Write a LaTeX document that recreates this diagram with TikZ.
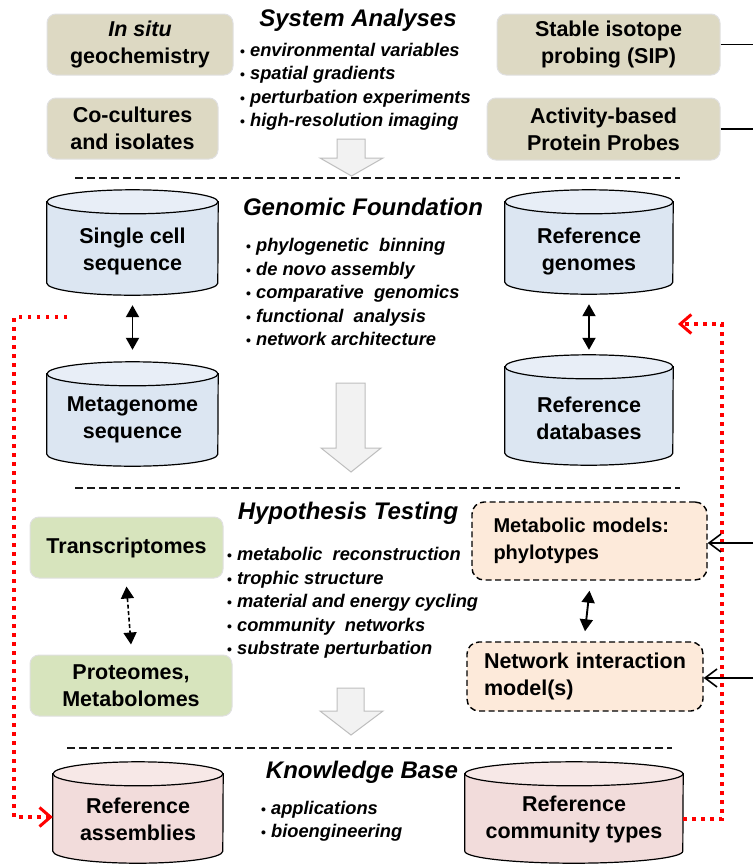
\documentclass[tikz,border=0pt]{standalone}
\usepackage{fontspec}
\setmainfont{Liberation Sans}
\usetikzlibrary{arrows.meta,calc}
\definecolor{beige}{RGB}{221,217,195}
\definecolor{cylblue}{RGB}{220,230,242}
\definecolor{cylbluetop}{RGB}{232,238,247}
\definecolor{grn}{RGB}{215,228,189}
\definecolor{peach}{RGB}{253,234,218}
\definecolor{pinkbody}{RGB}{242,220,219}
\definecolor{pinktop}{RGB}{247,232,231}
\definecolor{arrgray}{RGB}{242,242,242}
\definecolor{arrline}{RGB}{190,190,190}
\newcommand\drawcyl[4]{%
  \filldraw[fill=#3, draw=black, line width=1.2pt] ([yshift=-12pt]#1.north west) -- ([yshift=12pt]#1.south west) arc[start angle=180, end angle=360, x radius=#2pt, y radius=12pt] -- ([yshift=-12pt]#1.north east) -- cycle;
  \filldraw[fill=#4, draw=black, line width=1.2pt] ([yshift=-12pt]#1.north) ellipse[x radius=#2pt, y radius=12pt];
}
\newcommand\bl[1]{{\fontsize{14}{14}\selectfont\textbullet}\hspace{5pt}\textit{#1}}
\tikzset{
  boxtext/.style={align=center, inner sep=0pt, font=\bfseries\fontsize{21.5}{27}\selectfont},
  beigebox/.style={boxtext, rounded corners=9pt, fill=beige, draw=black!12, line width=1pt},
  grnbox/.style={boxtext, rounded corners=9pt, fill=grn, draw=black!12, line width=1pt},
  peachbox/.style={boxtext, align=left, rounded corners=12pt, fill=peach, draw=black, line width=1.4pt, dash pattern=on 6pt off 3.5pt},
  cylbox/.style={inner sep=0pt},
  heading/.style={inner sep=0pt, font=\bfseries\itshape\fontsize{24}{28}\selectfont},
  bullets/.style={align=left, anchor=west, inner sep=0pt, font=\bfseries\fontsize{18.3}{23.5}\selectfont},
  sepline/.style={line width=2.6pt, dash pattern=on 8pt off 4pt, draw=black!90},
  dbl/.style={line width=1.9pt, {Triangle[length=12pt,width=13pt]}-{Triangle[length=12pt,width=13pt]}},
  reddot/.style={draw=red, line width=3.5pt, dash pattern=on 3.5pt off 5.5pt},
  bigarrow/.style={fill=arrgray, draw=arrline, line width=1pt},
  feed/.style={line width=1.6pt, -{Straight Barb[length=12pt,width=18pt]}},
}
\begin{document}
\begin{tikzpicture}[x=1pt,y=-1pt]
\useasboundingbox (0,0) rectangle (753,865);
\fill[white] (0,0) rectangle (753,865);

% ---------- System analyses ----------
\node[heading] (hsys) at (358,20) {System Analyses};
\node[beigebox, minimum width=186pt, minimum height=61pt] (insitu) at (140,44.5) {\textit{In situ}\\geochemistry};
\node[beigebox, minimum width=171pt, minimum height=61pt] (cocult) at (132.5,128.5) {Co-cultures\\and isolates};
\node[beigebox, minimum width=223pt, minimum height=61pt] (sip) at (608.5,44.5) {Stable isotope\\probing (SIP)};
\node[beigebox, minimum width=233pt, minimum height=62pt] (abpp) at (603.5,129) {Activity-based\\Protein Probes};
\node[bullets] (bsys) at (240,87) {\bl{environmental variables}\\\bl{spatial gradients}\\\bl{perturbation experiments}\\\bl{high-resolution imaging}};
\coordinate (e1) at (753,44.5);
\coordinate (e2) at (753,129);
\draw[line width=1.8pt] (sip.east) -- (e1);
\draw[line width=1.8pt] (abpp.east) -- (e2);
\filldraw[bigarrow] (337,139) -- (365,139) -- (365,158) -- (383,158) -- (351.5,176) -- (320,158) -- (337,158) -- cycle;
\coordinate (s1a) at (75,178);
\coordinate (s1b) at (680,178);
\draw[sepline] (s1a) -- (s1b);

% ---------- Genomic foundation ----------
\node[heading] (hgen) at (363,207) {Genomic Foundation};
\node[cylbox, minimum width=171pt, minimum height=105pt] (sc) at (132.5,242.5) {};
\drawcyl{sc}{85.5}{cylblue}{cylbluetop}
\node[boxtext] (sctxt) at (132.5,251) {Single cell\\sequence};
\node[cylbox, minimum width=171pt, minimum height=104pt] (meta) at (132.5,414) {};
\drawcyl{meta}{85.5}{cylblue}{cylbluetop}
\node[boxtext] (metatxt) at (132.5,420) {Metagenome\\sequence};
\node[cylbox, minimum width=168pt, minimum height=104pt] (rgen) at (589,242) {};
\drawcyl{rgen}{84}{cylblue}{cylbluetop}
\node[boxtext] (rgentxt) at (589,251) {Reference\\genomes};
\node[cylbox, minimum width=168pt, minimum height=110pt] (rdb) at (589,410) {};
\drawcyl{rdb}{84}{cylblue}{cylbluetop}
\node[boxtext] (rdbtxt) at (589,418) {Reference\\databases};
\draw[dbl] ([yshift=-10pt]sc.south) -- ([yshift=12pt]meta.north);
\draw[dbl] ([yshift=-10pt]rgen.south) -- ([yshift=5pt]rdb.north);
\node[bullets] (bgen) at (246,292) {\bl{phylogenetic\ \ binning}\\\bl{de novo assembly}\\\bl{comparative\ \ genomics}\\\bl{functional\ \ analysis}\\\bl{network architecture}};
\filldraw[bigarrow] (336,383) -- (365,383) -- (365,448) -- (381,448) -- (351,472) -- (321,448) -- (336,448) -- cycle;
\coordinate (s2a) at (75,488);
\coordinate (s2b) at (680,488);
\draw[sepline] (s2a) -- (s2b);

% ---------- Hypothesis testing ----------
\node[heading] (hhyp) at (348,513) {Hypothesis Testing};
\node[grnbox, minimum width=193pt, minimum height=61pt] (trans) at (126.5,547.5) {Transcriptomes};
\node[grnbox, minimum width=202pt, minimum height=61pt] (prot) at (131,685.5) {Proteomes,\\Metabolomes};
\draw[dbl, line width=1.6pt, dash pattern=on 4pt off 2.5pt] ([yshift=-8pt]trans.south) -- ([yshift=10pt]prot.north);
\node[peachbox, minimum width=235pt, minimum height=78pt, text width=192pt, font=\bfseries\fontsize{20}{27}\selectfont] (mm) at (589.5,541) {Metabolic models:\\phylotypes};
\node[peachbox, minimum width=236pt, minimum height=69pt, text width=202pt] (nim) at (585,676.5) {Network interaction\\model(s)};
\draw[dbl] ([yshift=-10pt]mm.south) -- ([yshift=10pt]nim.north);
\node[bullets] (bhyp) at (227,603) {\bl{metabolic\ \ reconstruction}\\\bl{trophic\ structure}\\\bl{material\ and\ energy\ cycling}\\\bl{community\ \ networks}\\\bl{substrate\ perturbation}};
\filldraw[bigarrow] (337,688) -- (364,688) -- (364,711) -- (383,711) -- (351,735) -- (320,711) -- (337,711) -- cycle;
\coordinate (s3a) at (67,748);
\coordinate (s3b) at (672,748);
\draw[sepline] (s3a) -- (s3b);

% ---------- Knowledge base ----------
\node[heading] (hkb) at (362,772) {Knowledge Base};
\node[cylbox, minimum width=170pt, minimum height=101pt] (rasm) at (138,812.5) {};
\drawcyl{rasm}{85}{pinkbody}{pinktop}
\node[boxtext] (rasmtxt) at (138,819) {Reference\\assemblies};
\node[cylbox, minimum width=218pt, minimum height=101pt] (rcom) at (574,812.5) {};
\drawcyl{rcom}{109}{pinkbody}{pinktop}
\node[boxtext] (rcomtxt) at (574,819) {Reference\\community types};
\node[bullets] (bkb) at (261,821.5) {\bl{applications}\\\bl{bioengineering}};

% ---------- feedback loops ----------
\coordinate (l1) at (67,317);
\coordinate (l2) at (14,817);
\draw[reddot, -{Straight Barb[length=11pt,width=19pt,line width=3pt]}] (l1) -| (l2) -- (l2 -| rasm.west);
\coordinate (r1) at (722,819);
\coordinate (r2) at (678,324);
\draw[reddot, -{Straight Barb[length=11pt,width=19pt,line width=3pt]}] (rcom.east |- r1) -- (r1) |- (r2);

\coordinate (f1) at (753,543);
\coordinate (f2) at (753,678);
\draw[feed] (f1) -- (mm.east |- f1);
\draw[feed] (f2) -- (nim.east |- f2);
\end{tikzpicture}
\end{document}
